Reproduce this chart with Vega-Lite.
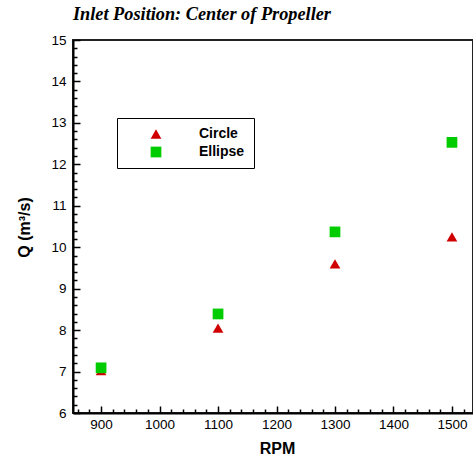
{
  "$schema": "https://vega.github.io/schema/vega-lite/v6.json",
  "autosize": {"type": "none"},
  "width": 400,
  "height": 373,
  "padding": {"left": 73, "top": 40, "right": 0, "bottom": 44},
  "background": "white",
  "title": {
    "text": "Inlet Position: Center of Propeller",
    "anchor": "start",
    "frame": "group",
    "font": "Liberation Serif",
    "fontSize": 18.3,
    "fontStyle": "italic",
    "fontWeight": "bold",
    "color": "#000000",
    "baseline": "alphabetic",
    "offset": -5
  },
  "config": {
    "view": {"stroke": "#222222", "strokeWidth": 2}
  },
  "data": {
    "values": [
      {"rpm": 900, "q": 7.02, "series": "Circle"},
      {"rpm": 1100, "q": 8.05, "series": "Circle"},
      {"rpm": 1300, "q": 9.6, "series": "Circle"},
      {"rpm": 1500, "q": 10.25, "series": "Circle"},
      {"rpm": 900, "q": 7.09, "series": "Ellipse"},
      {"rpm": 1100, "q": 8.39, "series": "Ellipse"},
      {"rpm": 1300, "q": 10.37, "series": "Ellipse"},
      {"rpm": 1500, "q": 12.53, "series": "Ellipse"}
    ]
  },
  "resolve": {"axis": {"x": "independent", "y": "independent"}},
  "layer": [
    {
      "mark": {"type": "point", "opacity": 0},
      "encoding": {
        "x": {
          "field": "rpm",
          "type": "quantitative",
          "scale": {"domain": [852, 1536], "nice": false, "zero": false},
          "axis": {
            "orient": "bottom",
            "title": null,
            "labels": false,
            "domain": false,
            "grid": false,
            "values": [860, 880, 920, 940, 960, 980, 1020, 1040, 1060, 1080, 1120, 1140, 1160, 1180, 1220, 1240, 1260, 1280, 1320, 1340, 1360, 1380, 1420, 1440, 1460, 1480, 1520],
            "tickSize": -4,
            "tickColor": "#000000",
            "tickWidth": 1.5
          }
        },
        "y": {
          "field": "q",
          "type": "quantitative",
          "scale": {"domain": [6, 15], "nice": false, "zero": false},
          "axis": {
            "orient": "left",
            "title": null,
            "labels": false,
            "domain": false,
            "grid": false,
            "values": [6.2, 6.4, 6.6, 6.8, 7.2, 7.4, 7.6, 7.8, 8.2, 8.4, 8.6, 8.8, 9.2, 9.4, 9.6, 9.8, 10.2, 10.4, 10.6, 10.8, 11.2, 11.4, 11.6, 11.8, 12.2, 12.4, 12.6, 12.8, 13.2, 13.4, 13.6, 13.8, 14.2, 14.4, 14.6, 14.8],
            "tickSize": -4,
            "tickColor": "#000000",
            "tickWidth": 1.5
          }
        }
      }
    },
    {
      "mark": {"type": "point", "filled": true, "opacity": 1, "size": 115},
      "encoding": {
        "x": {
          "field": "rpm",
          "type": "quantitative",
          "axis": {
            "orient": "bottom",
            "title": "RPM",
            "titleFont": "Liberation Sans",
            "titleFontSize": 16,
            "titleFontWeight": "bold",
            "titleColor": "#000000",
            "titleX": 204,
            "titleY": 35,
            "titleBaseline": "middle",
            "values": [900, 1000, 1100, 1200, 1300, 1400, 1500],
            "format": "d",
            "labelFont": "Liberation Sans",
            "labelFontSize": 13.5,
            "labelColor": "#000000",
            "labelPadding": 11,
            "labelFlush": false,
            "labelOverlap": false,
            "tickSize": -7,
            "tickColor": "#000000",
            "tickWidth": 1.5,
            "domainColor": "#000000",
            "domainWidth": 2,
            "grid": false
          }
        },
        "y": {
          "field": "q",
          "type": "quantitative",
          "axis": {
            "orient": "left",
            "title": "Q (m³/s)",
            "titleFont": "Liberation Sans",
            "titleFontSize": 16,
            "titleFontWeight": "bold",
            "titleColor": "#000000",
            "titleX": -49,
            "titleY": 187,
            "titleAngle": -90,
            "titleBaseline": "middle",
            "titleAlign": "center",
            "values": [6, 7, 8, 9, 10, 11, 12, 13, 14, 15],
            "format": "d",
            "labelFont": "Liberation Sans",
            "labelFontSize": 13.5,
            "labelColor": "#000000",
            "labelPadding": 14,
            "labelFlush": false,
            "labelOverlap": false,
            "tickSize": -7,
            "tickColor": "#000000",
            "tickWidth": 1.5,
            "domainColor": "#000000",
            "domainWidth": 2,
            "grid": false
          }
        },
        "color": {
          "field": "series",
          "type": "nominal",
          "scale": {"domain": ["Circle", "Ellipse"], "range": ["#d00000", "#00cc00"]},
          "legend": {
            "title": null,
            "orient": "none",
            "legendX": 44,
            "legendY": 78,
            "strokeColor": "#000000",
            "fillColor": "white",
            "padding": 9,
            "symbolOffset": 23,
            "labelOffset": 36,
            "rowPadding": 4,
            "symbolSize": 115,
            "symbolStrokeWidth": 0,
            "labelFont": "Liberation Sans",
            "labelFontSize": 14,
            "labelFontWeight": "bold",
            "labelColor": "#000000"
          }
        },
        "shape": {
          "field": "series",
          "type": "nominal",
          "scale": {"domain": ["Circle", "Ellipse"], "range": ["triangle-up", "square"]}
        }
      }
    }
  ]
}
